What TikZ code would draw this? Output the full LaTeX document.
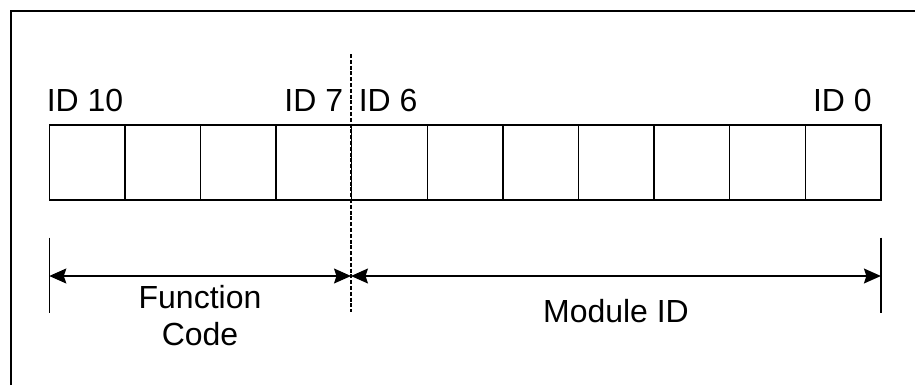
\documentclass[tikz,border=0pt]{standalone}
\usepackage{fontspec}
\setmainfont{Liberation Sans}
\usepackage{tikz}
\usetikzlibrary{positioning,arrows.meta}
\tikzset{
    bitcell/.style={
        draw=black, line width=0.75pt, outer sep=0pt, inner sep=0pt,
        minimum width=1.512cm, minimum height=1.5cm
    },
    idlabel/.style={
        inner sep=0pt, font=\fontsize{18.2}{21.4}\selectfont
    },
    fieldlabel/.style={
        inner sep=0pt, align=center, font=\fontsize{18.2}{21.4}\selectfont
    },
    split/.style={line width=0.6pt, dash pattern=on 2.3pt off 1pt},
    tick/.style={line width=0.75pt},
    dimarrow/.style={{Stealth[length=3.4mm,width=3mm,inset=0.5mm]}-{Stealth[length=3.4mm,width=3mm,inset=0.5mm]}, line width=0.75pt},
}
\begin{document}
\begin{tikzpicture}
    \useasboundingbox (0,0) rectangle (18.3,7.7);
    % outer frame, cut off at the right and bottom
    \draw[line width=1.1pt] (0.22,0) |- (18.3,7.48);
    % identifier bits, ID 10 down to ID 0
    \node[bitcell, anchor=south west] (b10) at (0.986,3.7) {};
    \foreach \i [evaluate=\i as \j using int(\i+1)] in {9,...,0}
        \node[bitcell, right=0pt of b\j] (b\i) {};
    \node[idlabel, anchor=base west] (l10) at (0.93,5.46) {ID 10};
    \node[idlabel, anchor=base east] (l7) at (6.87,5.46) {ID 7};
    \node[idlabel, anchor=base west] (l6) at (7.17,5.46) {ID 6};
    \node[idlabel, anchor=base east] (l0) at (17.44,5.46) {ID 0};
    % boundary between the two fields
    \coordinate (splittop) at (7.02,6.62);
    \coordinate (splitbot) at (7.02,1.466);
    \draw[split] (splittop) -- (splitbot);
    % extent markers
    \coordinate (lefttop) at (b10.west |- 0,2.946);
    \coordinate (leftbot) at (b10.west |- 0,1.434);
    \coordinate (righttop) at (b0.east |- 0,2.946);
    \coordinate (rightbot) at (b0.east |- 0,1.434);
    \draw[tick] (lefttop) -- (leftbot);
    \draw[tick] (righttop) -- (rightbot);
    \coordinate (leftend) at (b10.west |- 0,2.18);
    \coordinate (mid) at (7.02,2.18);
    \coordinate (rightend) at (b0.east |- 0,2.18);
    \draw[dimarrow] (leftend) -- (mid);
    \draw[dimarrow] (mid) -- (rightend);
    \node[fieldlabel] (func) at (4.0,1.39) {Function\\Code};
    \node[fieldlabel, anchor=base] (module) at (12.32,1.246) {Module ID};
\end{tikzpicture}
\end{document}
